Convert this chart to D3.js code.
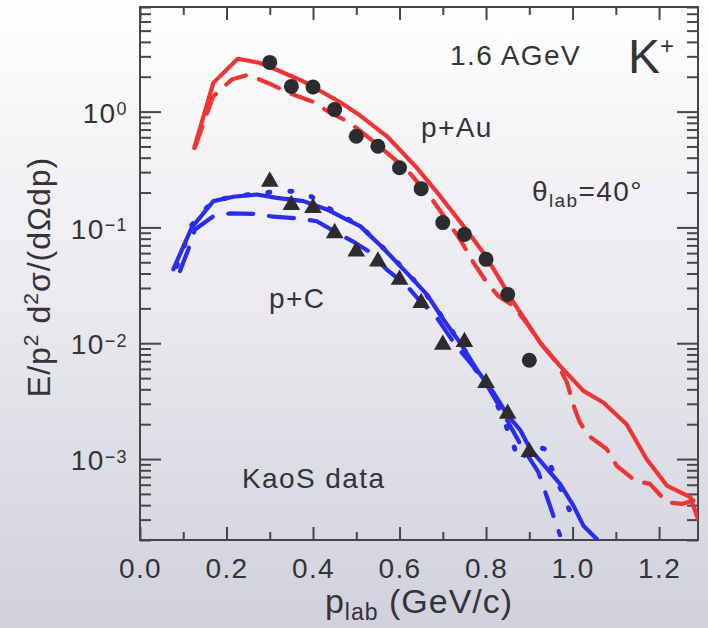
<!DOCTYPE html>
<html>
<head>
<meta charset="utf-8">
<script src="https://cdn.jsdelivr.net/npm/d3@7/dist/d3.min.js"></script>
<style>
  html, body { margin: 0; padding: 0; }
  body { width: 708px; height: 628px; overflow: hidden; }
  svg text { font-family: "Liberation Sans", Arial, Helvetica, sans-serif; fill: #333338; }
</style>
</head>
<body>
<svg id="chart" width="708" height="628"></svg>
<script>
// --- data ---
// KaoS data points, p+Au (circles) and p+C (triangles)
const dataP = [0.3, 0.35, 0.4, 0.45, 0.5, 0.55, 0.6, 0.65, 0.7, 0.75, 0.8, 0.85, 0.9];
const auData = [2.66, 1.65, 1.63, 1.04, 0.612, 0.502, 0.327, 0.216, 0.110, 0.087, 0.053, 0.0264, 0.00713];
const cData = [0.259, 0.163, 0.153, 0.093, 0.0646, 0.053, 0.0368, 0.0232, 0.0101, 0.0107, 0.00473, 0.00256, 0.0012];

// model curves
const auSolidP = [0.1255, 0.1695, 0.226, 0.277, 0.324, 0.378, 0.462, 0.509, 0.571, 0.640, 0.694, 0.748, 0.794, 0.832, 0.859, 0.925, 0.971, 1.025, 1.071, 1.125, 1.171, 1.218, 1.272, 1.29];
const auSolidV = [0.486, 1.77, 2.86, 2.63, 2.23, 1.82, 1.21, 0.924, 0.612, 0.327, 0.186, 0.1026, 0.0605, 0.0356, 0.0239, 0.01014, 0.00637, 0.00388, 0.00308, 0.0020, 0.0010, 0.00059, 0.00047, 0.000304];

const auDashP = [0.127, 0.169, 0.212, 0.25, 0.3045, 0.342, 0.397, 0.435, 0.486, 0.539, 0.617, 0.678, 0.740, 0.771, 0.802, 0.828, 0.863, 0.894, 0.925, 0.963, 0.987, 1.006, 1.017, 1.037, 1.079, 1.102, 1.145, 1.179, 1.218, 1.252, 1.291];
const auDashV = [0.49, 1.35, 1.89, 2.08, 1.71, 1.46, 1.23, 1.0, 0.80, 0.554, 0.316, 0.169, 0.0788, 0.0496, 0.0334, 0.0256, 0.021, 0.0149, 0.0101, 0.00682, 0.00459, 0.00264, 0.00207, 0.00159, 0.00122, 0.000875, 0.00065, 0.00061, 0.000424, 0.00041, 0.000452];

const cSolidP = [0.077, 0.1195, 0.1695, 0.216, 0.270, 0.316, 0.378, 0.432, 0.478, 0.509, 0.5625, 0.620, 0.663, 0.701, 0.740, 0.778, 0.817, 0.848, 0.879, 0.902, 0.971, 1.002, 1.025, 1.056];
const cSolidV = [0.0435, 0.0993, 0.1686, 0.184, 0.1925, 0.180, 0.1686, 0.143, 0.117, 0.1026, 0.066, 0.0393, 0.0264, 0.0161, 0.0101, 0.00597, 0.00376, 0.00244, 0.00178, 0.00122, 0.00061, 0.000396, 0.000266, 0.000204];

const cDashP = [0.0925, 0.1117, 0.127, 0.1695, 0.208, 0.27, 0.308, 0.370, 0.4086, 0.462, 0.497, 0.528, 0.570, 0.617, 0.647, 0.686, 0.728, 0.763, 0.794, 0.832, 0.879, 0.921, 0.940, 0.971];
const cDashV = [0.042, 0.0646, 0.096, 0.125, 0.132, 0.131, 0.1237, 0.119, 0.113, 0.087, 0.0738, 0.0625, 0.0435, 0.0312, 0.0232, 0.0167, 0.0098, 0.00682, 0.0049, 0.0028, 0.00135, 0.00077, 0.00048, 0.00022];

const cDotP = [0.085, 0.12, 0.17, 0.25, 0.30, 0.351, 0.397, 0.432, 0.474, 0.51, 0.56, 0.62, 0.66, 0.70, 0.74, 0.775, 0.81, 0.859, 0.875, 0.913, 0.936, 0.952, 0.971, 0.990, 1.0097];
const cDotV = [0.046, 0.105, 0.172, 0.192, 0.2015, 0.2056, 0.184, 0.149, 0.122, 0.1026, 0.068, 0.040, 0.027, 0.0165, 0.0102, 0.006, 0.0041, 0.00149, 0.00097, 0.0013, 0.00122, 0.00082, 0.00057, 0.000383, 0.000266];

const xMajor = [0, 0.2, 0.4, 0.6, 0.8, 1.0, 1.2];
const xMinor = [0.1, 0.3, 0.5, 0.7, 0.9, 1.1];
const yMajor = [1e-3, 1e-2, 1e-1, 1];
const yExp = ["\u22123", "\u22122", "\u22121", "0"];

const svg = d3.select("#chart");
const W = 708, H = 628;
const margin = { top: 7, right: 10, bottom: 88, left: 140 };
const x0 = margin.left, x1 = W - margin.right;
const y0 = H - margin.bottom, y1 = margin.top;

// --- background ---
const defs = svg.append("defs");
const grad = defs.append("linearGradient").attr("id", "bg")
    .attr("x1", 0).attr("y1", 0).attr("x2", 0).attr("y2", 1);
grad.append("stop").attr("offset", "0%").attr("stop-color", "#ffffff");
grad.append("stop").attr("offset", "45%").attr("stop-color", "#ebebf0");
grad.append("stop").attr("offset", "100%").attr("stop-color", "#d1d1dd");
svg.append("rect").attr("width", W).attr("height", H).attr("fill", "url(#bg)");

defs.append("clipPath").attr("id", "plotclip")
    .append("rect").attr("x", x0).attr("y", y1).attr("width", x1 - x0).attr("height", y0 - y1);

// --- scales ---
const x = d3.scaleLinear().domain([0, 1.29]).range([x0, x1]);
const y = d3.scaleLog().domain([2e-4, 8]).range([y0, y1]);

const yMinor = [];
for (let e = -4; e <= 0; e++) {
    for (let m = 2; m <= 9; m++) {
        const v = m * Math.pow(10, e);
        if (v >= 2e-4 && v <= 8) yMinor.push(v);
    }
}

const axisColor = "#45454a";
const styleAxis = g => {
    g.select(".domain").remove();
    g.selectAll(".tick line").attr("stroke", axisColor).attr("stroke-width", 2);
    g.selectAll(".tick text").style("font-size", "28px").style("letter-spacing", "1.4px").attr("fill", "#333338");
};

// --- axes: ticks on all four sides pointing inwards ---
svg.append("g").attr("transform", `translate(0,${y0})`)
    .call(d3.axisBottom(x).tickValues(xMajor).tickSize(-13).tickSizeOuter(0).tickPadding(18)
        .tickFormat(d3.format(".1f")))
    .call(styleAxis);
svg.append("g").attr("transform", `translate(0,${y0})`)
    .call(d3.axisBottom(x).tickValues(xMinor).tickSize(-8).tickSizeOuter(0).tickFormat(""))
    .call(styleAxis);
svg.append("g").attr("transform", `translate(0,${y1})`)
    .call(d3.axisTop(x).tickValues(xMajor).tickSize(-13).tickSizeOuter(0).tickFormat(""))
    .call(styleAxis);
svg.append("g").attr("transform", `translate(0,${y1})`)
    .call(d3.axisTop(x).tickValues(xMinor).tickSize(-8).tickSizeOuter(0).tickFormat(""))
    .call(styleAxis);

const left = svg.append("g").attr("transform", `translate(${x0},0)`)
    .call(d3.axisLeft(y).tickValues(yMajor).tickSize(-21).tickSizeOuter(0).tickPadding(12).tickFormat(() => "10"))
    .call(styleAxis);
left.selectAll(".tick text").attr("dy", "0.38em").each(function(d) {
    d3.select(this).append("tspan").attr("dy", "-0.42em").style("font-size", "18px")
        .text(yExp[yMajor.indexOf(d)]);
});
svg.append("g").attr("transform", `translate(${x0},0)`)
    .call(d3.axisLeft(y).tickValues(yMinor).tickSize(-11).tickSizeOuter(0).tickFormat(""))
    .call(styleAxis);
svg.append("g").attr("transform", `translate(${x1},0)`)
    .call(d3.axisRight(y).tickValues(yMajor).tickSize(-21).tickSizeOuter(0).tickFormat(""))
    .call(styleAxis);
svg.append("g").attr("transform", `translate(${x1},0)`)
    .call(d3.axisRight(y).tickValues(yMinor).tickSize(-11).tickSizeOuter(0).tickFormat(""))
    .call(styleAxis);

// frame
svg.append("rect").attr("x", x0).attr("y", y1).attr("width", x1 - x0).attr("height", y0 - y1)
    .attr("fill", "none").attr("stroke", axisColor).attr("stroke-width", 2);

// --- model curves ---
const line = d3.line().x(d => x(d[0])).y(d => y(d[1]));
const zip = (a, b) => a.map((p, i) => [p, b[i]]);
const plot = svg.append("g").attr("clip-path", "url(#plotclip)");

const red = "#ee3434", blue = "#2b2cef";
const curves = [
    { d: zip(auSolidP, auSolidV), c: red, dash: null, w: 4.2 },
    { d: zip(auDashP, auDashV), c: red, dash: "22,14", w: 4.2 },
    { d: zip(cSolidP, cSolidV), c: blue, dash: null, w: 4.2 },
    { d: zip(cDashP, cDashV), c: blue, dash: "25,16", w: 4.2 },
    { d: zip(cDotP, cDotV), c: blue, dash: "2,20", w: 5 }
];
curves.forEach(cv => {
    plot.append("path").datum(cv.d)
        .attr("fill", "none")
        .attr("stroke", cv.c)
        .attr("stroke-width", cv.w)
        .attr("stroke-linecap", "round")
        .attr("stroke-linejoin", "round")
        .attr("stroke-dasharray", cv.dash)
        .attr("d", line);
});

// --- data points ---
const markColor = "#2c2c30";
plot.selectAll("circle.au").data(zip(dataP, auData)).enter().append("circle")
    .attr("class", "au")
    .attr("cx", d => x(d[0])).attr("cy", d => y(d[1])).attr("r", 7.5)
    .attr("fill", markColor);
const tri = d3.symbol().type(d3.symbolTriangle).size(135);
plot.selectAll("path.c").data(zip(dataP, cData)).enter().append("path")
    .attr("class", "c")
    .attr("transform", d => `translate(${x(d[0])},${y(d[1]) + 2})`)
    .attr("d", tri)
    .attr("fill", markColor);

// --- labels ---
const txt = (tx, ty, size) => svg.append("text").attr("x", tx).attr("y", ty)
    .style("font-size", size + "px").style("letter-spacing", "1.4px");

txt(450, 65, 28).text("1.6 AGeV");
const k = txt(628, 73, 48).style("letter-spacing", "0px").text("K");
k.append("tspan").attr("dy", -19).style("font-size", "24px").text("+");
txt(421, 137, 28).text("p+Au");
const th = txt(532, 201, 28).text("\u03b8");
th.append("tspan").attr("dy", 6).style("font-size", "19px").text("lab");
th.append("tspan").attr("dy", -6).text("=40\u00b0");
txt(269, 308, 28).text("p+C");
txt(242, 488, 28).text("KaoS data");

// axis titles
const xl = svg.append("text").attr("x", 419).attr("y", 613).attr("text-anchor", "middle")
    .style("font-size", "34px").style("letter-spacing", "1px").text("p");
xl.append("tspan").attr("dy", 7).style("font-size", "23px").text("lab");
xl.append("tspan").attr("dy", -7).text(" (GeV/c)");

const yl = svg.append("text").attr("transform", "translate(50,277) rotate(-90)")
    .attr("text-anchor", "middle")
    .style("font-size", "32px").style("letter-spacing", "1px").text("E/p");
yl.append("tspan").attr("dy", -12).style("font-size", "21px").text("2");
yl.append("tspan").attr("dy", 12).text(" d");
yl.append("tspan").attr("dy", -12).style("font-size", "21px").text("2");
yl.append("tspan").attr("dy", 12).text("\u03c3/(d\u03a9dp)");
</script>
</body>
</html>
